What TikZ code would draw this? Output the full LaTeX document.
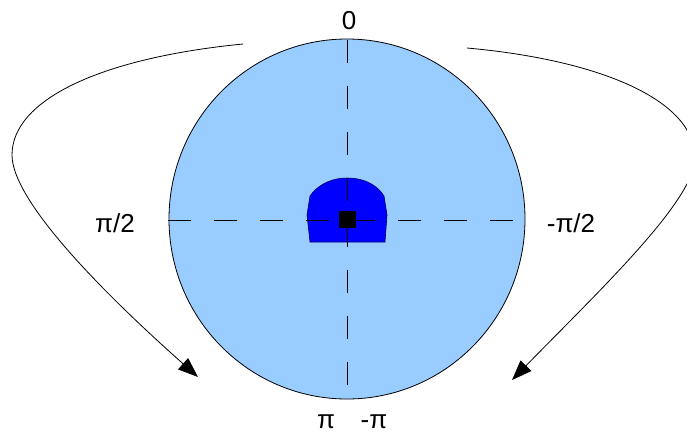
\documentclass[tikz,border=0pt]{standalone}
\usepackage{fontspec}
\setmainfont{Liberation Sans}
\usetikzlibrary{arrows.meta}
\definecolor{discblue}{RGB}{153,204,255}
\definecolor{coreblue}{RGB}{0,0,255}
\tikzset{
  anglelabel/.style={font=\fontsize{26}{30}\selectfont, anchor=base, inner sep=0pt},
  axisline/.style={line width=0.8pt, dash pattern=on 23pt off 23pt},
  turnarrow/.style={line width=0.8pt, -{Triangle[length=20pt,width=15pt]}}
}
\begin{document}
\begin{tikzpicture}[x=1pt,y=-1pt]
  % Frame of the picture (pixel grid, y downwards)
  \clip (0,0) rectangle (687,432);
  % Disc seen from above
  \filldraw[fill=discblue, draw=black, line width=0.8pt] (347,219) ellipse (178 and 180);
  % Central core with its rounded top
  \filldraw[fill=coreblue, draw=black!60!blue, line width=0.6pt]
    (310,242) -- (307,215) -- (310,196) .. controls (320,182) and (335,178) .. (347,178)
    .. controls (360,178) and (375,182) .. (384,196) -- (387,215) -- (385,242) -- cycle;
  % Cross hairs
  \coordinate (top) at (347,40);
  \coordinate (bottom) at (347,386);
  \coordinate (left) at (168,220);
  \coordinate (right) at (525,220);
  \draw[axisline] (top) -- (bottom);
  \draw[axisline] (left) -- (right);
  % Centre marker
  \fill[black] (339,211) rectangle (356,228);
  % Angle labels
  \node[anglelabel] (zero) at (349,29) {0};
  \node[anglelabel] (plushalf) at (115,232) {π/2};
  \node[anglelabel] (minushalf) at (571,232) {-π/2};
  \node[anglelabel] (plusfull) at (326,428) {π};
  \node[anglelabel] (minusfull) at (374,428) {-π};
  % Turning arrows on both sides
  \coordinate (lstart) at (243,44);
  \coordinate (lend) at (198,377);
  \coordinate (rstart) at (467,48);
  \coordinate (rend) at (512,380);
  \draw[turnarrow] (lstart) .. controls (100,58) and (12,100) .. (12,155)
    .. controls (12,200) and (100,290) .. (lend);
  \draw[turnarrow] (rstart) .. controls (600,60) and (695,100) .. (695,158)
    .. controls (695,200) and (600,290) .. (rend);
\end{tikzpicture}
\end{document}
